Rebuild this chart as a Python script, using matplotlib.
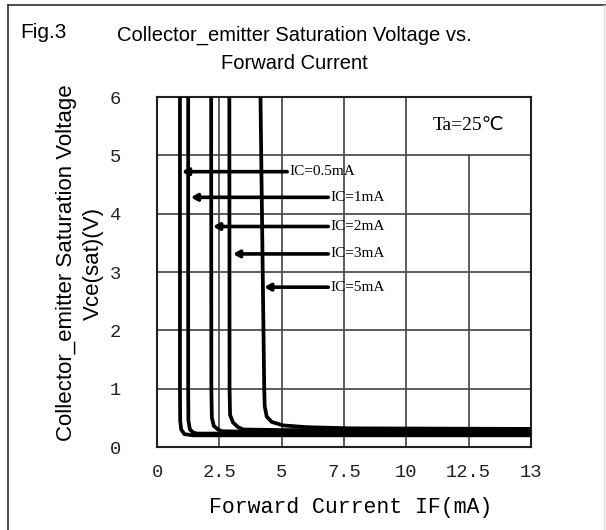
import numpy as np
import matplotlib
matplotlib.use("Agg")
from matplotlib import pyplot as plt
from matplotlib.lines import Line2D

# curves: IF (mA) vs Vce(sat) (V)
ic_labels = ['IC=0.5mA', 'IC=1mA', 'IC=2mA', 'IC=3mA', 'IC=5mA']
if_05 = [0.92, 0.92, 0.93, 0.97, 1.10, 1.45, 3.0, 8.0, 15.0]
vce_05 = [7.0, 1.00, 0.45, 0.30, 0.22, 0.20, 0.20, 0.20, 0.20]
if_1 = [1.25, 1.25, 1.26, 1.32, 1.45, 1.60, 3.5, 8.0, 15.0]
vce_1 = [7.0, 1.00, 0.45, 0.30, 0.25, 0.23, 0.23, 0.23, 0.23]
if_2 = [2.17, 2.18, 2.20, 2.28, 2.45, 2.60, 4.0, 8.0, 15.0]
vce_2 = [7.0, 1.00, 0.50, 0.36, 0.30, 0.27, 0.26, 0.26, 0.26]
if_3 = [2.90, 2.91, 2.93, 3.05, 3.25, 3.46, 5.0, 9.0, 15.0]
vce_3 = [7.0, 1.00, 0.55, 0.42, 0.34, 0.30, 0.29, 0.29, 0.29]
if_5 = [4.12, 4.30, 4.32, 4.40, 4.60, 5.07, 6.0, 7.75, 15.0]
vce_5 = [7.0, 1.00, 0.70, 0.52, 0.43, 0.37, 0.34, 0.32, 0.31]
curves = [(if_05, vce_05), (if_1, vce_1), (if_2, vce_2), (if_3, vce_3), (if_5, vce_5)]

# arrow labels: tail x, tip x, y
arrow_tail = [5.22, 6.87, 6.87, 6.87, 6.87]
arrow_tip = [1.00, 1.36, 2.25, 3.05, 4.30]
arrow_y = [4.72, 4.28, 3.78, 3.31, 2.74]

x_ticks = [0, 2.5, 5, 7.5, 10, 12.5, 15]
x_ticklabels = ['0', '2.5', '5', '7.5', '10', '12.5', '13']
y_ticks = [0, 1, 2, 3, 4, 5, 6]

W, H = 606, 530
fig = plt.figure(figsize=(W / 100, H / 100), dpi=100)
ax = fig.add_axes([157 / W, 1 - 447 / H, 374 / W, 350 / H])

grid_c = '#505050'
for gx in [2.5, 5, 7.5, 10]:
    ax.plot([gx, gx], [0, 6], color=grid_c, lw=1.3, zorder=1)
ax.plot([12.5, 12.5], [0, 5], color=grid_c, lw=1.3, zorder=1)
for gy in [1, 2, 3, 4, 5]:
    ax.plot([0, 15], [gy, gy], color=grid_c, lw=1.3, zorder=1)

for xs, ys in curves:
    ax.plot(xs, ys, color='black', lw=2.7, solid_joinstyle='round', zorder=3)

for lab, xt, xh, yy in zip(ic_labels, arrow_tail, arrow_tip, arrow_y):
    ax.annotate('', xy=(xh, yy), xytext=(xt, yy),
                arrowprops=dict(arrowstyle='-|>,head_length=0.35,head_width=0.2',
                                color='black', lw=2.6, shrinkA=0, shrinkB=0), zorder=4)
    ax.text(xt + 0.1, yy, lab, ha='left', va='center', fontsize=11,
            family=['Liberation Serif', 'DejaVu Serif'], zorder=5)

ax.text(12.5, 5.52, 'Ta=25\u2103', ha='center', va='center', fontsize=14,
        family=['Liberation Serif', 'DejaVu Sans'])

ax.set_xlim(0, 15)
ax.set_ylim(0, 6)
ax.set_xticks(x_ticks)
ax.set_xticklabels(x_ticklabels)
ax.set_yticks(y_ticks)
ax.tick_params(axis='both', length=0, labelsize=13.5, colors='#222222')
ax.tick_params(axis='x', pad=12)
ax.tick_params(axis='y', pad=26)
for lbl in ax.get_xticklabels() + ax.get_yticklabels():
    lbl.set_family(['Liberation Mono', 'DejaVu Sans Mono'])
for sp in ax.spines.values():
    sp.set_linewidth(1.5)
    sp.set_color('#202020')

sans = ['Liberation Sans']
fig.text(294 / W, 1 - 49 / H, 'Collector_emitter Saturation Voltage vs.\nForward Current',
         ha='center', va='center', fontsize=14.5, family=sans, linespacing=1.6)
fig.text(20 / W, 1 - 33 / H, 'Fig.3', ha='left', va='center', fontsize=15, family=sans)
fig.text(80 / W, 1 - 263 / H, 'Collector_emitter Saturation Voltage\nVce(sat)(V)',
         ha='center', va='center', rotation=90, multialignment='center',
         fontsize=16, family=sans, linespacing=1.35)
fig.text(351 / W, 1 - 507 / H, 'Forward Current IF(mA)', ha='center', va='center',
         fontsize=15.5, family=['Liberation Mono', 'DejaVu Sans Mono'])

# outer frame of the figure
fig.add_artist(Line2D([8 / W, 8 / W], [0, 1 - 5 / H], transform=fig.transFigure, color='#303030', lw=1.2))
fig.add_artist(Line2D([8 / W, 1], [1 - 5 / H, 1 - 5 / H], transform=fig.transFigure, color='#303030', lw=1.2))
fig.add_artist(Line2D([604 / W, 604 / W], [0, 1 - 5 / H], transform=fig.transFigure, color='#dddddd', lw=1.0))

fig.savefig('out.png', dpi=100)
